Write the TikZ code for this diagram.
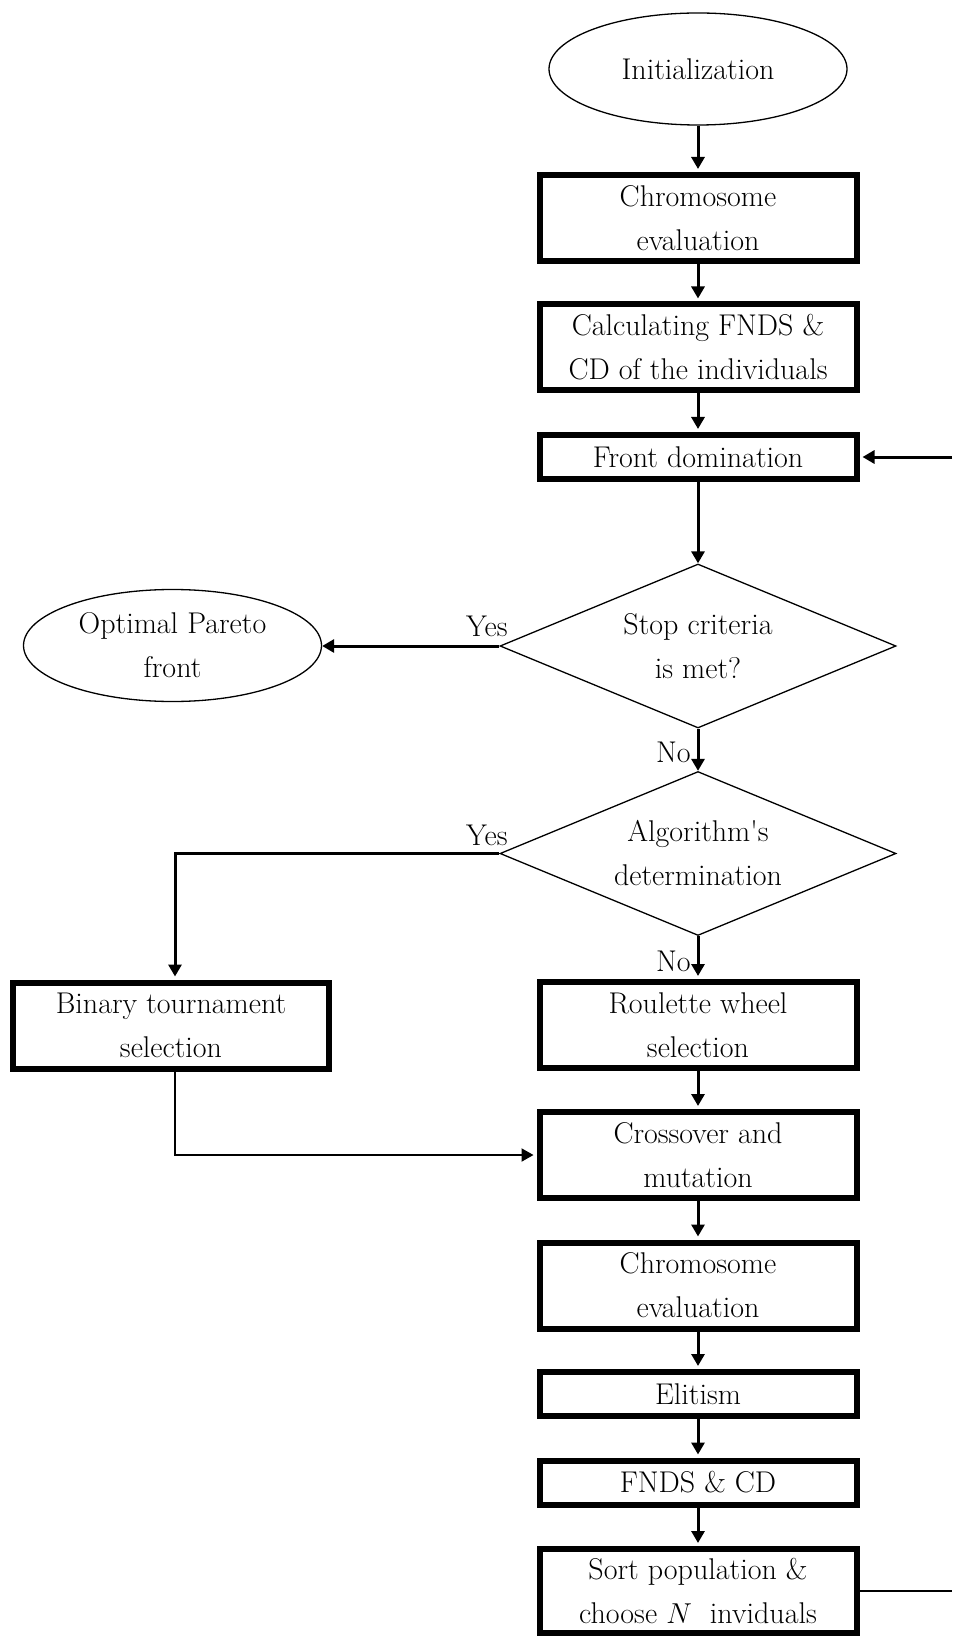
\documentclass[tikz,border=0pt]{standalone}
\usetikzlibrary{shapes.geometric,arrows.meta}
\begin{document}
\begin{tikzpicture}[x=0.5pt,y=-0.5pt,
  every node/.style={font=\fontsize{15}{22}\selectfont, align=center, inner sep=0pt},
  pbox/.style={draw, line width=3pt, rectangle, minimum width=158.5pt},
  tall/.style={pbox, minimum height=43pt},
  short/.style={pbox, minimum height=22pt},
  oval/.style={draw, ellipse, line width=0.65pt, minimum width=149pt, minimum height=56pt},
  dec/.style={draw, diamond, line width=0.65pt, minimum width=198pt, minimum height=82pt, aspect=2.4},
  arr/.style={line width=1.5pt, -{Triangle[length=6pt,width=6.5pt]}},
  arrb/.style={arr, shorten >=1.5pt},
  thinarr/.style={line width=1pt, -{Triangle[length=6pt,width=6.5pt]}, shorten >=1.5pt},
  lbl/.style={anchor=base east}
]
\useasboundingbox (0,0) rectangle (952,1636);

\node[oval] (init) at (698,69) {Initialization};
\node[tall] (c1) at (698,218) {Chromosome\\evaluation};
\node[tall] (calc) at (698,347.5) {Calculating FNDS \&\\CD of the individuals};
\node[short] (front) at (698,457) {Front domination};
\node[dec] (stop) at (698,646) {Stop criteria\\is met?};
\node[oval] (opt) at (172.5,645.5) {Optimal Pareto\\front};
\node[dec] (algo) at (698,853.5) {Algorithm\textquotesingle s\\determination};
\node[tall, minimum width=158pt] (bin) at (171,1025.5) {Binary tournament\\selection};
\node[tall] (roul) at (698,1025) {Roulette wheel\\selection};
\node[tall] (cross) at (698,1155) {Crossover and\\mutation};
\node[tall] (c2) at (698,1285.5) {Chromosome\\evaluation};
\node[short] (elit) at (698,1394) {Elitism};
\node[short] (fnds) at (698,1482.5) {FNDS \& CD};
\node[tall, minimum height=42pt] (sort) at (698,1591) {Sort population \&\\choose $N$\ \ inviduals};

\node[lbl] (y1) at (508,636) {Yes};
\node[lbl] (y2) at (508,845) {Yes};
\node[lbl] (n1) at (691,762) {No};
\node[lbl] (n2) at (691,971) {No};

\coordinate (bx) at (175,0);
\coordinate (r1) at (952,1591);
\coordinate (r2) at (952,457);

\draw[arrb] (init) -- (c1);
\draw[arrb] (c1) -- (calc);
\draw[arrb] (calc) -- (front);
\draw[arr] (front) -- (stop);
\draw[arr] (stop) -- (algo);
\draw[arrb] (algo) -- (roul);
\draw[arrb] (roul) -- (cross);
\draw[arrb] (cross) -- (c2);
\draw[arrb] (c2) -- (elit);
\draw[arrb] (elit) -- (fnds);
\draw[arrb] (fnds) -- (sort);
\draw[arr] (stop.west) -- (stop.west -| opt.east);
\draw[arrb] (algo.west) -| (bin.north -| bx);
\draw[thinarr] (bin.south -| bx) |- (cross.west);
\draw[line width=1pt] (sort.east) -- (r1);
\draw[arrb] (r2) -- (front.east);
\end{tikzpicture}
\end{document}
